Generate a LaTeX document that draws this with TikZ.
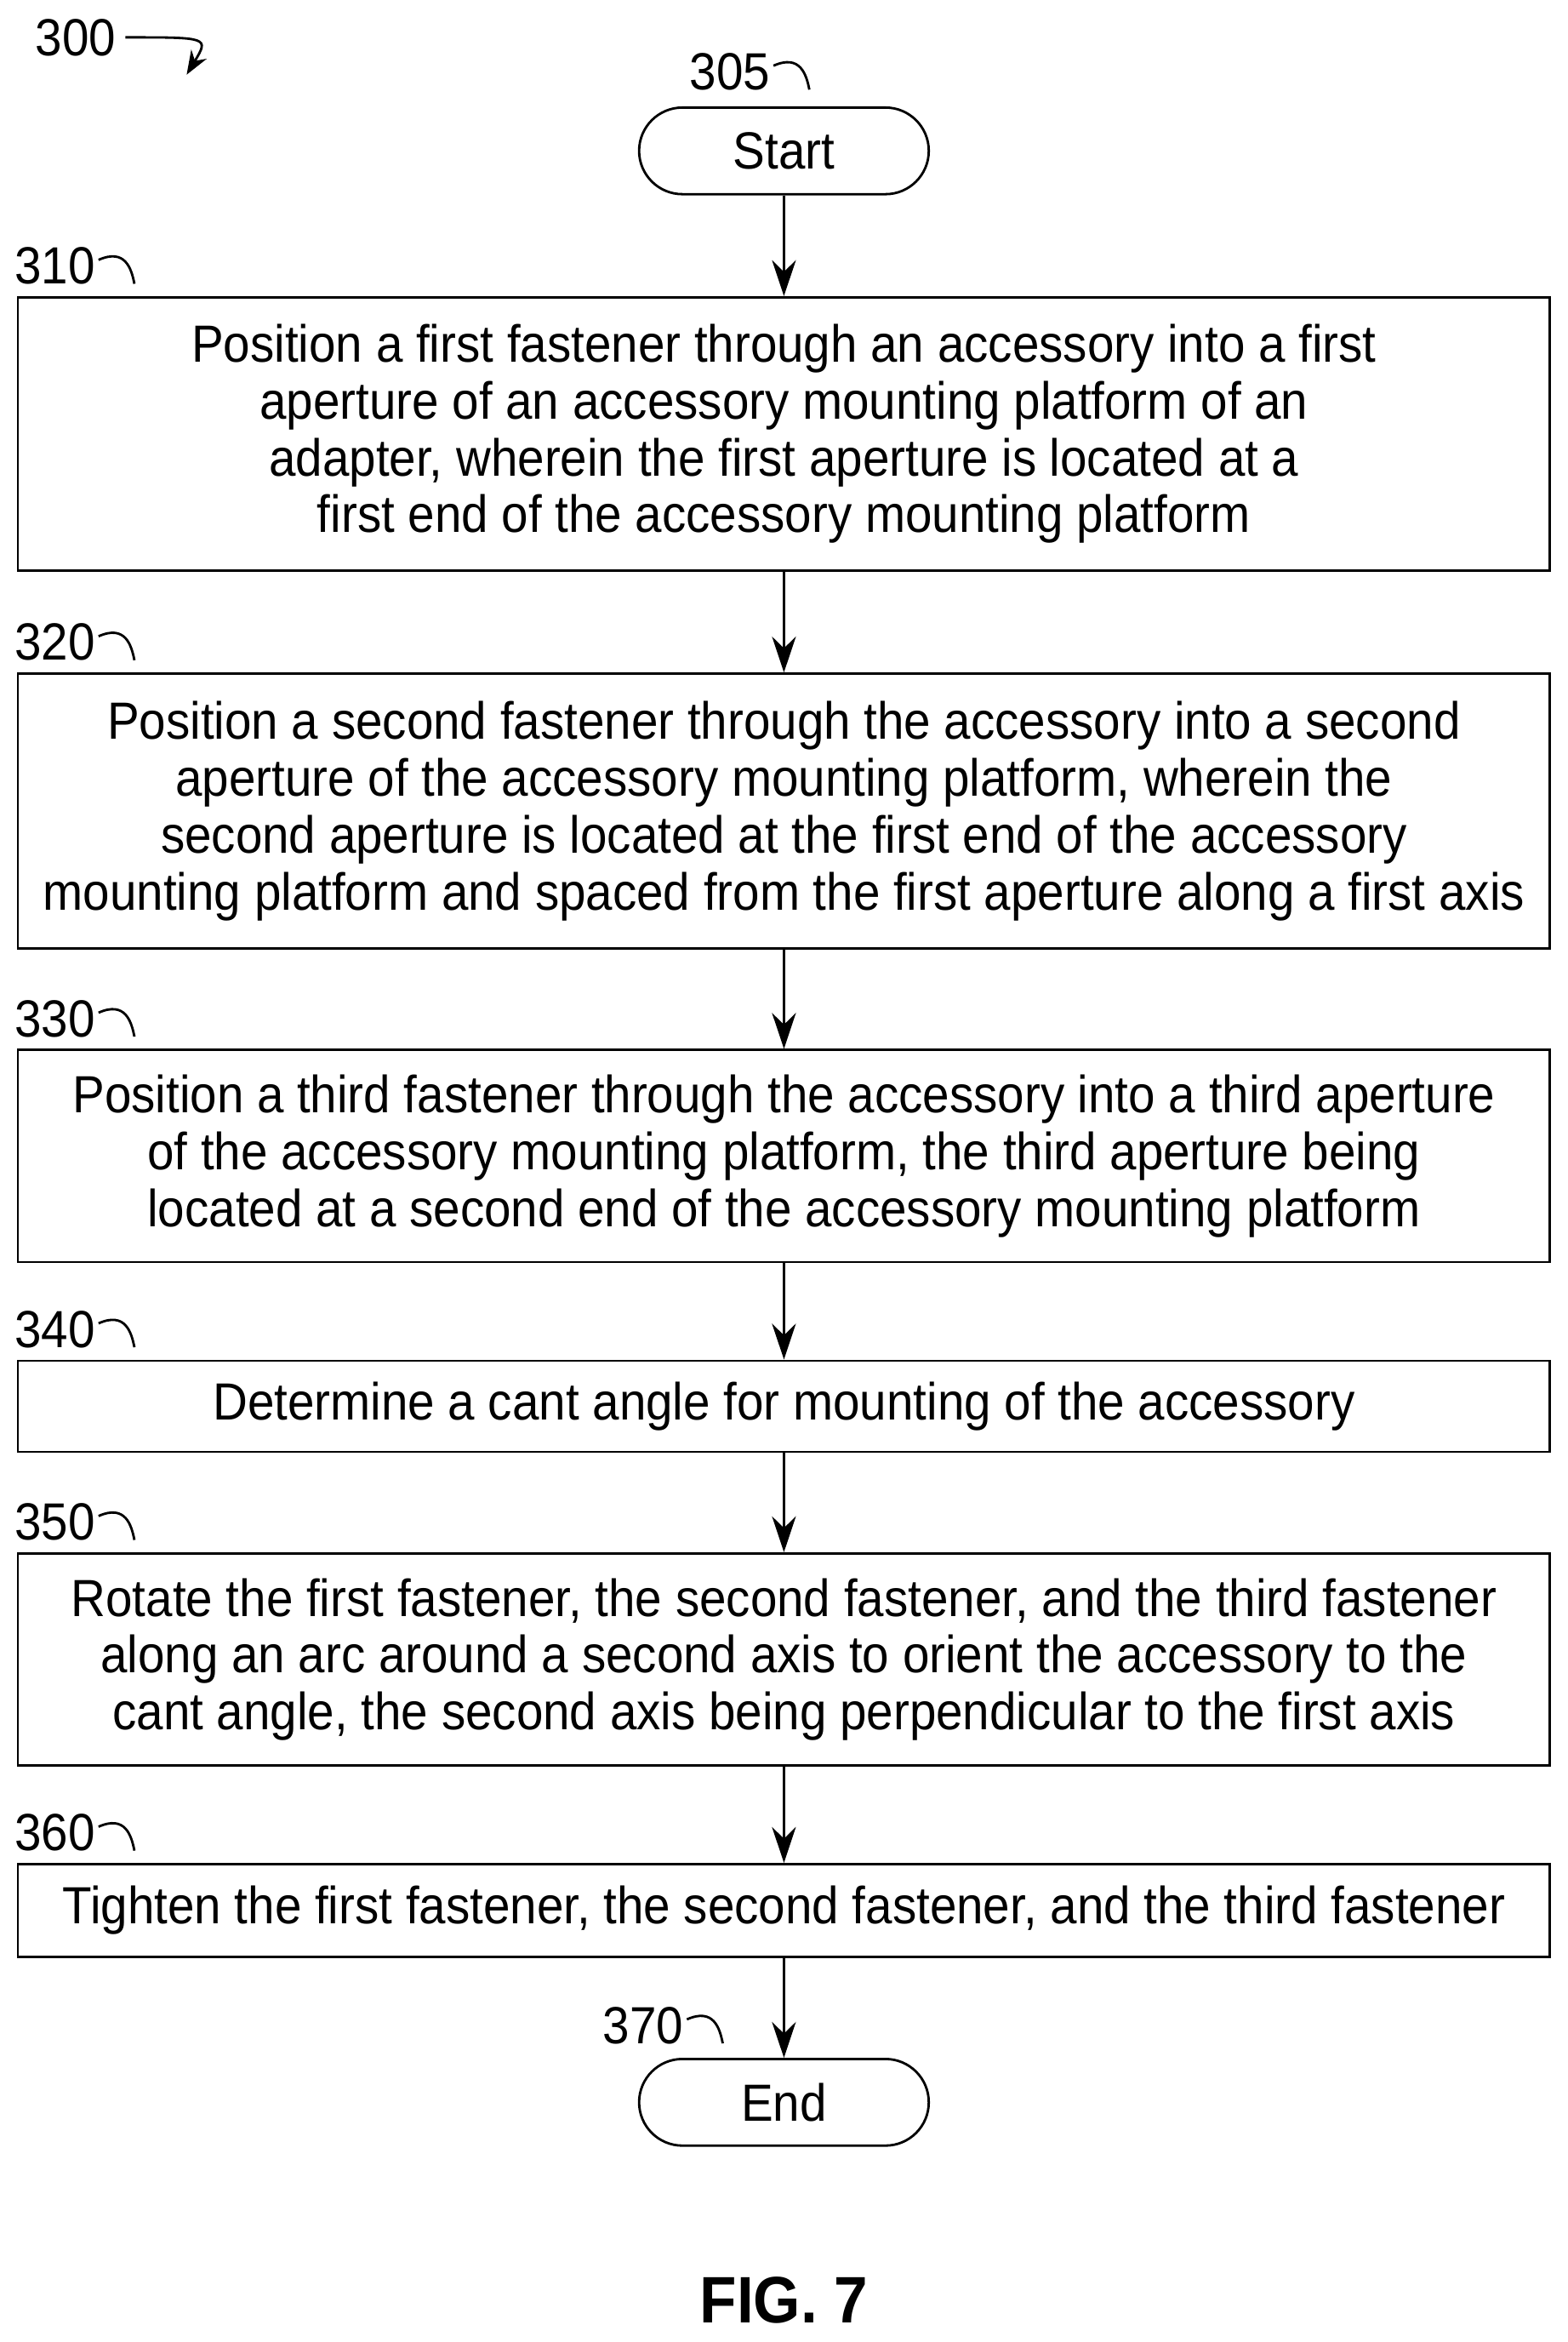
\documentclass[tikz,border=0pt]{standalone}
\usepackage{fontspec}
\setmainfont{Liberation Sans}[FakeStretch=0.92]
\usetikzlibrary{positioning,arrows.meta}
\newlength{\pxu}\setlength{\pxu}{0.01756cm}
\newcommand{\fs}{\fontsize{17.5}{19}\selectfont}
\tikzset{
  procbox/.style={draw,thick,minimum width=1026\pxu,inner sep=0pt,align=center,font=\fs},
  term/.style={draw,thick,rounded corners=29\pxu,minimum width=194\pxu,minimum height=58\pxu,font=\fs},
  ref/.style={font=\fs,inner sep=0pt},
  flow/.style={thick,-{Stealth[length=12pt,width=8pt]}}
}
% kleiner Bogen am Bezugszeichen
\newcommand{\refmark}[3]{\node[ref,anchor=east] (#1) at (#2) {#3};
  \draw[thick] ([xshift=1pt,yshift=2pt]#1.east) .. controls +(9pt,4pt) and +(-1pt,5pt) .. +(12pt,-8pt);}
\begin{document}
\begin{tikzpicture}[x=\pxu,y=-\pxu]
\useasboundingbox (0,0) rectangle (1050,1568);
% Start und Schritte
\node[term] (start) at (525,101) {Start};
\node[procbox,minimum height=183\pxu] (s310) at (525,290.5) {Position a first fastener through an accessory into a first\\aperture of an accessory mounting platform of an\\adapter, wherein the first aperture is located at a\\first end of the accessory mounting platform};
\node[procbox,minimum height=184\pxu] (s320) at (525,543) {Position a second fastener through the accessory into a second\\aperture of the accessory mounting platform, wherein the\\second aperture is located at the first end of the accessory\\mounting platform and spaced from the first aperture along a first axis};
\node[procbox,minimum height=142\pxu] (s330) at (525,774) {Position a third fastener through the accessory into a third aperture\\of the accessory mounting platform, the third aperture being\\located at a second end of the accessory mounting platform};
\node[procbox,minimum height=61\pxu] (s340) at (525,941.5) {Determine a cant angle for mounting of the accessory};
\node[procbox,minimum height=142\pxu] (s350) at (525,1111) {Rotate the first fastener, the second fastener, and the third fastener\\along an arc around a second axis to orient the accessory to the\\cant angle, the second axis being perpendicular to the first axis};
\node[procbox,minimum height=62\pxu] (s360) at (525,1279) {Tighten the first fastener, the second fastener, and the third fastener};
\node[term] (end) at (525,1407.5) {End};
% Pfeile
\foreach \a/\b in {start/s310,s310/s320,s320/s330,s330/s340,s340/s350,s350/s360,s360/end}
  \draw[flow] (\a) -- (\b);
% Bezugszeichen
\refmark{r305}{516,48}{305}
\refmark{r310}{64,178}{310}
\refmark{r320}{64,430}{320}
\refmark{r330}{64,682}{330}
\refmark{r340}{64,890}{340}
\refmark{r350}{64,1019}{350}
\refmark{r360}{64,1227}{360}
\refmark{r370}{458,1356}{370}
\node[ref,anchor=east] (r300) at (78,25) {300};
\draw[thick,-{Stealth[length=8pt,width=6pt]}] ([xshift=3pt]r300.east) .. controls +(28pt,0pt) .. (125,50);
\node[font=\bfseries\fontsize{22}{24}\selectfont] (fig) at (525,1540) {FIG. 7};
\end{tikzpicture}
\end{document}
